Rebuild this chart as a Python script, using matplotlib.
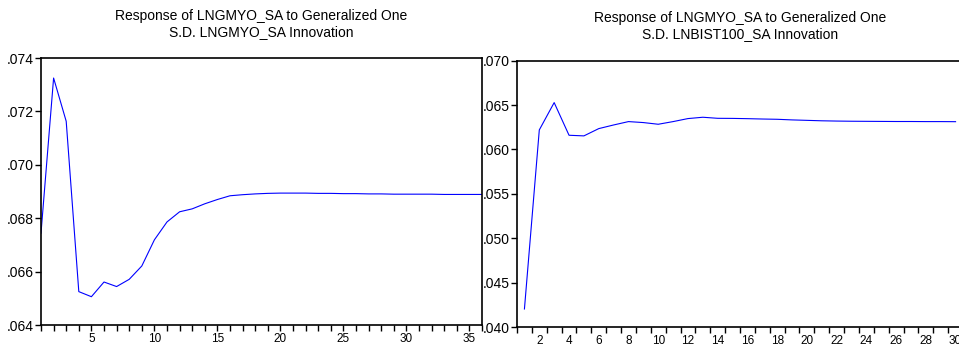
import numpy as np
import matplotlib
matplotlib.use('Agg')
import matplotlib.pyplot as plt

plt.rcParams['font.family'] = ['Liberation Sans', 'DejaVu Sans']

# left panel: response to LNGMYO_SA shock, periods 1..36
periods_left = list(range(1, 37))
resp_left = [0.06744, 0.07325, 0.07163, 0.06525, 0.06506, 0.06561, 0.06544, 0.06571,
             0.06621, 0.06719, 0.06786, 0.06824, 0.06835, 0.06854, 0.06870, 0.06884,
             0.06888, 0.06891, 0.06893, 0.06894, 0.06894, 0.06894, 0.06893, 0.06893,
             0.06892, 0.06892, 0.06891, 0.06891, 0.06890, 0.06890, 0.06890, 0.06890,
             0.06889, 0.06889, 0.06889, 0.06889]

# right panel: response to LNBIST100_SA shock, periods 1..30
periods_right = list(range(1, 31))
resp_right = [0.04203, 0.06220, 0.06528, 0.06160, 0.06153, 0.06235, 0.06276, 0.06314,
              0.06303, 0.06284, 0.06314, 0.06348, 0.06363, 0.06351, 0.06350, 0.06347,
              0.06343, 0.06340, 0.06333, 0.06328, 0.06323, 0.06320, 0.06318, 0.06317,
              0.06316, 0.06315, 0.06315, 0.06314, 0.06314, 0.06313]

left_yticks = [0.064, 0.066, 0.068, 0.070, 0.072, 0.074]
left_ylabels = ['.064', '.066', '.068', '.070', '.072', '.074']
left_xticks = [5, 10, 15, 20, 25, 30, 35]

right_yticks = [0.040, 0.045, 0.050, 0.055, 0.060, 0.065, 0.070]
right_ylabels = ['.040', '.045', '.050', '.055', '.060', '.065', '.070']
right_xticks = list(range(2, 31, 2))

title_left = 'Response of LNGMYO_SA to Generalized One\nS.D. LNGMYO_SA Innovation'
title_right = 'Response of LNGMYO_SA to Generalized One\nS.D. LNBIST100_SA Innovation'

W, H = 959, 348
fig = plt.figure(figsize=(W / 100, H / 100), dpi=100)

ax1 = fig.add_axes([41 / W, (H - 325) / H, (482 - 41) / W, (325 - 58) / H])
ax2 = fig.add_axes([517 / W, (H - 327) / H, (963 - 517) / W, (327 - 60.7) / H])

ax1.plot(periods_left, resp_left, color='#0000ff', lw=0.8)
ax1.set_xlim(1, 36)
ax1.set_ylim(0.064, 0.074)
ax1.set_xticks(left_xticks)
ax1.set_xticks(periods_left, minor=True)
ax1.set_yticks(left_yticks)
ax1.set_yticklabels(left_ylabels)

ax2.plot(periods_right, resp_right, color='#0000ff', lw=0.8)
ax2.set_xlim(0.5, 30.5)
ax2.set_ylim(0.040, 0.070)
ax2.set_xticks(right_xticks)
ax2.set_xticks(np.arange(0.5, 31, 1), minor=True)
ax2.set_yticks(right_yticks)
ax2.set_yticklabels(right_ylabels)

for ax, t in [(ax1, title_left), (ax2, title_right)]:
    for s in ax.spines.values():
        s.set_linewidth(1.2)
    ax.tick_params(axis='both', which='both', direction='out', width=1, colors='black')
    ax.tick_params(axis='y', which='major', length=4, pad=1, labelsize=10)
    ax.tick_params(axis='x', which='both', length=4, labelsize=8.5, pad=1.5)
    ax.set_title(t, fontsize=10, pad=16, linespacing=1.2)

ax2.tick_params(axis='x', which='major', length=0, pad=5.5)

fig.savefig('out.png', dpi=100)
